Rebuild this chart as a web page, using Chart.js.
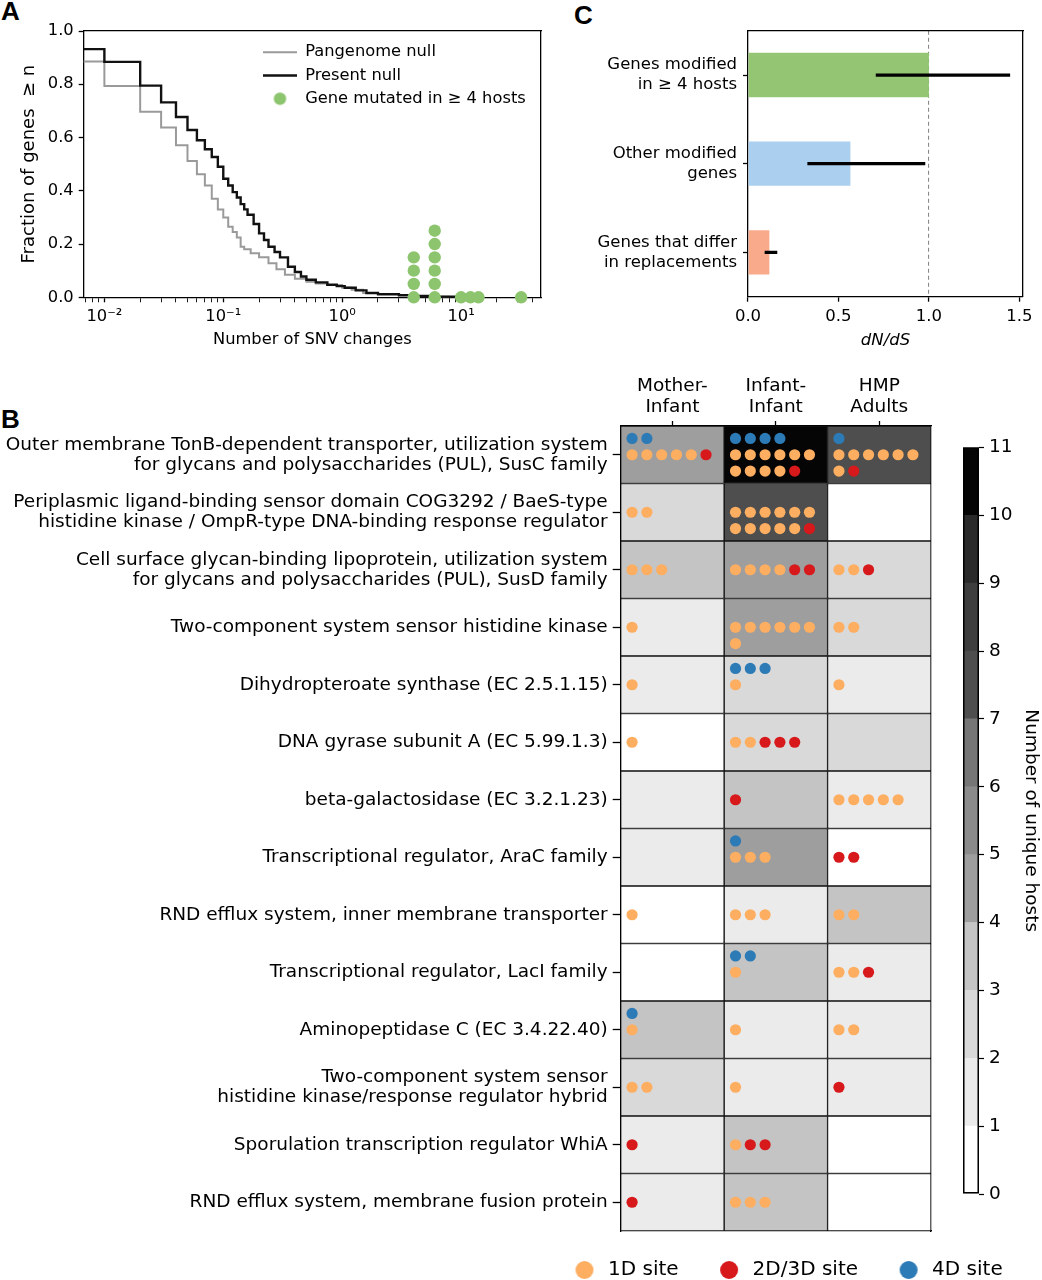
<!DOCTYPE html>
<html><head><meta charset="utf-8">
<title>Figure</title>
<script src="https://cdn.jsdelivr.net/npm/chart.js@4.4.1/dist/chart.umd.min.js"></script>
<style>
html,body{margin:0;padding:0;background:#fff;}
body{width:1042px;height:1280px;position:relative;overflow:hidden;}
canvas{position:absolute;}
.lbl{position:absolute;font-family:'Liberation Sans',Arial,sans-serif;font-weight:bold;font-size:26px;line-height:1;color:#000;}
</style></head><body>
<div class="lbl" style="left:1px;top:-2px">A</div>
<div class="lbl" style="left:574px;top:2px">C</div>
<div class="lbl" style="left:1px;top:406px">B</div>
<canvas id="cA" style="left:0;top:0" width="560" height="360"></canvas>
<canvas id="cLegA" style="left:256px;top:37px" width="290" height="200"></canvas>
<canvas id="cC" style="left:572px;top:0" width="470" height="360"></canvas>
<canvas id="cB" style="left:0;top:360px" width="1042" height="900"></canvas>
<canvas id="cCB" style="left:940px;top:430px" width="102" height="790"></canvas>
<canvas id="cLegB" style="left:534px;top:1223px" width="508" height="200"></canvas>
<script>
// ================= Panel A data =================
const seriesA = ['Pangenome null', 'Present null', 'Gene mutated in \u2265 4 hosts'];
const pangenomeX = [0.005,0.01,0.02,0.03,0.04,0.05,0.06,0.07,0.08,0.09,0.1,0.11,0.12,0.13,0.14,0.15,0.17,0.2,0.24,0.28,0.33,0.4,0.5,0.6,0.75,1.0,1.2,1.5,2.0,3.0,4.0,6.0,8.0];
const pangenomeY = [0.885,0.793,0.697,0.638,0.571,0.512,0.462,0.42,0.37,0.33,0.30,0.265,0.245,0.225,0.19,0.18,0.165,0.15,0.128,0.105,0.085,0.07,0.058,0.052,0.046,0.036,0.028,0.016,0.01,0.006,0.004,0.002,0];
const presentX = [0.005,0.01,0.02,0.03,0.04,0.05,0.06,0.07,0.08,0.09,0.1,0.11,0.12,0.13,0.14,0.15,0.16,0.18,0.2,0.22,0.24,0.27,0.3,0.35,0.4,0.45,0.5,0.6,0.75,0.9,1.05,1.3,1.6,2.0,3.0,4.0,6.0,9.0];
const presentY = [0.932,0.884,0.795,0.732,0.677,0.628,0.59,0.556,0.527,0.49,0.445,0.42,0.395,0.375,0.35,0.33,0.31,0.275,0.24,0.215,0.19,0.17,0.15,0.115,0.095,0.078,0.066,0.056,0.047,0.042,0.036,0.026,0.016,0.012,0.008,0.005,0.002,0];
const mutatedX = [4,4,4,4,6,6,6,6,6,6,10,12,14,32];
const mutatedY = [0,0.05,0.1,0.15,0,0.05,0.1,0.15,0.2,0.25,0,0,0,0];
const xMajorA = [0.01, 0.1, 1, 10];
const xMajorLabelsA = ['10\u207B\u00B2', '10\u207B\u00B9', '10\u2070', '10\u00B9'];
const yTicksA = [0, 0.2, 0.4, 0.6, 0.8, 1.0];
const xTitleA = 'Number of SNV changes';
const yTitleA = 'Fraction of genes  \u2265 n';

// ================= Panel C data =================
const cCategories = [['Genes modified', 'in \u2265 4 hosts'], ['Other modified', 'genes'], ['Genes that differ', 'in replacements']];
const cDnDs = [1.0, 0.566, 0.118];
const cLow = [0.708, 0.33, 0.094];
const cHigh = [1.447, 0.978, 0.160];
const cTicks = [0, 0.5, 1.0, 1.5];
const cRefLine = 1.0;
const cTitle = 'dN/dS';

// ================= Panel B data =================
const genes = [
  ['Outer membrane TonB-dependent transporter, utilization system', 'for glycans and polysaccharides (PUL), SusC family'],
  ['Periplasmic ligand-binding sensor domain COG3292 / BaeS-type', 'histidine kinase / OmpR-type DNA-binding response regulator'],
  ['Cell surface glycan-binding lipoprotein, utilization system', 'for glycans and polysaccharides (PUL), SusD family'],
  'Two-component system sensor histidine kinase',
  'Dihydropteroate synthase (EC 2.5.1.15)',
  'DNA gyrase subunit A (EC 5.99.1.3)',
  'beta-galactosidase (EC 3.2.1.23)',
  'Transcriptional regulator, AraC family',
  'RND efflux system, inner membrane transporter',
  'Transcriptional regulator, LacI family',
  'Aminopeptidase C (EC 3.4.22.40)',
  ['Two-component system sensor', 'histidine kinase/response regulator hybrid'],
  'Sporulation transcription regulator WhiA',
  'RND efflux system, membrane fusion protein'
];
const groups = [['Mother-', 'Infant'], ['Infant-', 'Infant'], ['HMP', 'Adults']];
const hostsMI  = [4, 2, 3, 1, 1, 0, 1, 1, 0, 0, 3, 2, 1, 1];
const hostsII  = [10, 7, 4, 4, 2, 2, 3, 4, 1, 3, 1, 1, 3, 3];
const hostsHMP = [7, 0, 2, 2, 1, 2, 1, 0, 3, 1, 1, 1, 0, 0];
const sites1D_MI   = [5, 2, 3, 1, 1, 1, 0, 0, 1, 0, 1, 2, 0, 0];
const sites23D_MI  = [1, 0, 0, 0, 0, 0, 0, 0, 0, 0, 0, 0, 1, 1];
const sites4D_MI   = [2, 0, 0, 0, 0, 0, 0, 0, 0, 0, 1, 0, 0, 0];
const sites1D_II   = [10, 11, 4, 7, 1, 2, 0, 3, 3, 1, 1, 1, 1, 3];
const sites23D_II  = [1, 1, 2, 0, 0, 3, 1, 0, 0, 0, 0, 0, 2, 0];
const sites4D_II   = [4, 0, 0, 0, 3, 0, 0, 1, 0, 2, 0, 0, 0, 0];
const sites1D_HMP  = [7, 0, 2, 2, 1, 0, 5, 0, 2, 2, 2, 0, 0, 0];
const sites23D_HMP = [1, 0, 1, 0, 0, 0, 0, 2, 0, 1, 0, 1, 0, 0];
const sites4D_HMP  = [1, 0, 0, 0, 0, 0, 0, 0, 0, 0, 0, 0, 0, 0];
const siteTypes = ['1D site', '2D/3D site', '4D site'];
const cbTicks = [0, 1, 2, 3, 4, 5, 6, 7, 8, 9, 10, 11];
const cbTitle = 'Number of unique hosts';

// ================= Styles =================
const BLACK = '#000';
const COLOR_PANGENOME = '#9a9a9a';
const COLOR_PRESENT = '#111111';
const COLOR_GREEN = '#8dc46e';
const cColors = ['#94c573', '#abcfee', '#f8aa8b'];
const siteColors = ['#fdae61', '#d7191c', '#2c7bb6'];
const greys = ['#ffffff', '#ebebeb', '#d9d9d9', '#c4c4c4', '#9e9e9e', '#8b8b8b', '#767676', '#4e4e4e', '#3e3e3e', '#2a2a2a', '#050505'];
const X_MIN_A = 0.0067, X_MAX_A = 47, C_XMAX = 1.52;
const DOT_X0 = 0.11, DOT_DX = 0.143, DOT_DY = 0.284, DOTS_PER_LINE = 6;
const FONT_A = 16.3, FONT_C = 16.5, FONT_B = 18.5;

Chart.defaults.font.family = "'DejaVu Sans', 'Noto Sans', sans-serif";
Chart.defaults.font.size = 17;
Chart.defaults.color = BLACK;
Chart.defaults.animation = false;
Chart.defaults.responsive = false;
Chart.defaults.maintainAspectRatio = false;
Chart.defaults.devicePixelRatio = 1;
Chart.defaults.events = [];
Chart.defaults.plugins.legend.display = false;
Chart.defaults.plugins.tooltip.enabled = false;

function frameAxis(axis, pos, w) {
  return { axis, type: 'linear', position: pos, min: 0, max: 1, display: true, offset: false,
    ticks: { display: false }, grid: { display: false, drawTicks: false, offset: false },
    border: { display: true, color: BLACK, width: w },
    afterFit(s) { if (axis === 'x') s.height = 0; else s.width = 0; } };
}
function legendSwatch(color, r) {
  const c = document.createElement('canvas');
  c.width = c.height = Math.ceil(2 * r + 2);
  const g = c.getContext('2d');
  g.fillStyle = color; g.beginPath(); g.arc(c.width / 2, c.height / 2, r, 0, Math.PI * 2); g.fill();
  return c;
}

// ================= Panel A chart =================
const xTicksA = [];
[-3, -2, -1, 0, 1].forEach(e => {
  for (let m = 1; m < 10; m++) {
    const v = +(m * Math.pow(10, e)).toPrecision(6);
    if (v >= X_MIN_A && v <= X_MAX_A) xTicksA.push(v);
  }
});
new Chart(document.getElementById('cA'), {
  type: 'scatter',
  data: { datasets: [
    { label: seriesA[0], data: pangenomeX.map((x, i) => ({ x, y: pangenomeY[i] })), showLine: true, stepped: 'before',
      borderColor: COLOR_PANGENOME, backgroundColor: COLOR_PANGENOME, borderWidth: 2, pointRadius: 0, order: 2 },
    { label: seriesA[1], data: presentX.map((x, i) => ({ x, y: presentY[i] })), showLine: true, stepped: 'before',
      borderColor: COLOR_PRESENT, backgroundColor: COLOR_PRESENT, borderWidth: 2.4, pointRadius: 0, order: 1 },
    { label: seriesA[2], data: mutatedX.map((x, i) => ({ x, y: mutatedY[i] })), showLine: false,
      pointRadius: 6.2, pointBorderWidth: 0, backgroundColor: COLOR_GREEN, borderColor: COLOR_GREEN, clip: false, order: 0 }
  ] },
  options: {
    layout: { padding: { top: 31, right: 19, left: 0, bottom: 0 } },
    scales: {
      x: { type: 'logarithmic', position: 'bottom', min: X_MIN_A, max: X_MAX_A,
        afterBuildTicks(s) { s.ticks = xTicksA.map(v => ({ value: v })); },
        ticks: { autoSkip: false, maxRotation: 0, padding: 5, font: { size: FONT_A },
          callback(v) { const i = xMajorA.indexOf(v); return i >= 0 ? xMajorLabelsA[i] : ''; } },
        grid: { drawOnChartArea: false, tickLength: 5, tickColor: BLACK,
          tickWidth: c => (c.tick && xMajorA.indexOf(c.tick.value) >= 0) ? 1.3 : 0.9 },
        border: { color: BLACK, width: 1.3 },
        title: { display: true, text: xTitleA, font: { size: FONT_A }, padding: { top: 0, bottom: 10 } },
        afterFit(s) { s.height = 62.7; } },
      y: { type: 'linear', position: 'left', min: 0, max: 1,
        afterBuildTicks(s) { s.ticks = yTicksA.map(v => ({ value: v })); },
        ticks: { padding: 5, font: { size: FONT_A }, callback: v => v.toFixed(1) },
        grid: { drawOnChartArea: false, tickLength: 5, tickColor: BLACK, tickWidth: 1.3 },
        border: { color: BLACK, width: 1.3 },
        title: { display: true, text: yTitleA, font: { size: 18 }, padding: { top: 19, bottom: 0 } },
        afterFit(s) { s.width = 83.7; } },
      x2: frameAxis('x', 'top', 1.3),
      y2: frameAxis('y', 'right', 1.3)
    }
  }
});

// Legend for panel A (overlay inside plot area)
new Chart(document.getElementById('cLegA'), {
  type: 'scatter', data: { datasets: [] },
  options: {
    scales: { x: { display: false }, y: { display: false } },
    plugins: { legend: { display: true, position: 'top', align: 'start',
      labels: { usePointStyle: true, pointStyleWidth: 34, boxHeight: 9, padding: 7, font: { size: FONT_A }, color: BLACK,
        generateLabels: () => [
          { text: seriesA[0], strokeStyle: COLOR_PANGENOME, fillStyle: COLOR_PANGENOME, lineWidth: 2, pointStyle: 'line', hidden: false },
          { text: seriesA[1], strokeStyle: COLOR_PRESENT, fillStyle: COLOR_PRESENT, lineWidth: 2.4, pointStyle: 'line', hidden: false },
          { text: seriesA[2], strokeStyle: COLOR_GREEN, fillStyle: COLOR_GREEN, lineWidth: 0, pointStyle: legendSwatch(COLOR_GREEN, 6.2), hidden: false }
        ] } } }
  }
});

// ================= Panel C chart =================
new Chart(document.getElementById('cC'), {
  type: 'bar',
  data: { labels: cCategories, datasets: [
    { label: 'dN/dS', data: cDnDs, backgroundColor: cColors, barPercentage: 0.5, categoryPercentage: 1, grouped: false, order: 1 },
    { label: 'interval', data: cLow.map((v, i) => [v, cHigh[i]]), backgroundColor: BLACK, barThickness: 2.6, grouped: false, order: 0 }
  ] },
  options: {
    indexAxis: 'y',
    layout: { padding: { top: 30.7, right: 19, left: 0, bottom: 0 } },
    scales: {
      x: { type: 'linear', position: 'bottom', min: 0, max: C_XMAX, offset: false,
        afterBuildTicks(s) { s.ticks = cTicks.map(v => ({ value: v })); },
        ticks: { autoSkip: false, maxRotation: 0, padding: 5, font: { size: FONT_C }, callback: v => v.toFixed(1) },
        grid: { drawOnChartArea: true, offset: false, lineWidth: 1.1,
          color: c => (c.tick && c.tick.value === cRefLine) ? '#8a8a8a' : 'rgba(0,0,0,0)',
          tickColor: BLACK, tickLength: 5, tickWidth: 1.3, tickBorderDash: [] },
        border: { color: BLACK, width: 1.3, dash: [4, 3] },
        title: { display: true, text: cTitle, font: { style: 'italic', size: FONT_C }, padding: { top: 0, bottom: 9.8 } },
        afterFit(s) { s.height = 63.3; } },
      y: { type: 'category', position: 'left', offset: true,
        ticks: { autoSkip: false, padding: 6, font: { size: FONT_C } },
        grid: { drawOnChartArea: false, offset: false, tickLength: 5, tickColor: BLACK, tickWidth: 1.3 },
        border: { color: BLACK, width: 1.3 },
        afterFit(s) { s.width = 176; } },
      x2: frameAxis('x', 'top', 1.3),
      y2: frameAxis('y', 'right', 1.3)
    }
  }
});

// ================= Panel B chart =================
const hostsByCol = [hostsMI, hostsII, hostsHMP];
const sitesByCol = [[sites1D_MI, sites23D_MI, sites4D_MI], [sites1D_II, sites23D_II, sites4D_II], [sites1D_HMP, sites23D_HMP, sites4D_HMP]];
const dotPts = [[], [], []];
sitesByCol.forEach((cs, c) => {
  genes.forEach((g, r) => {
    const seq = [];
    for (let k = 0; k < cs[0][r]; k++) seq.push(0);
    for (let k = 0; k < cs[1][r]; k++) seq.push(1);
    seq.forEach((t, k) => {
      const line = Math.floor(k / DOTS_PER_LINE), pos = k % DOTS_PER_LINE;
      dotPts[t].push({ x: c + DOT_X0 + pos * DOT_DX, y: r + line * DOT_DY });
    });
    for (let k = 0; k < cs[2][r]; k++) {
      const line = Math.floor(k / DOTS_PER_LINE), pos = k % DOTS_PER_LINE;
      dotPts[2].push({ x: c + DOT_X0 + pos * DOT_DX, y: r - (line + 1) * DOT_DY });
    }
  });
});

new Chart(document.getElementById('cB'), {
  type: 'bar',
  data: { labels: genes, datasets: [
    ...groups.map((g, c) => ({ type: 'bar', label: g.join(' '), xAxisID: 'x', yAxisID: 'y',
      data: genes.map(() => [c, c + 1]), backgroundColor: hostsByCol[c].map(h => greys[h]),
      borderColor: '#111', borderWidth: 1, borderSkipped: false, grouped: false,
      barPercentage: 1, categoryPercentage: 1, order: 2 })),
    ...siteTypes.map((s, t) => ({ type: 'scatter', label: s, xAxisID: 'x', yAxisID: 'yd', data: dotPts[t],
      pointRadius: 5.6, pointBorderWidth: 0, backgroundColor: siteColors[t], borderColor: siteColors[t],
      showLine: false, clip: false, order: 0 }))
  ] },
  options: {
    indexAxis: 'y',
    layout: { padding: { left: 0, right: 111, top: 0, bottom: 29 } },
    scales: {
      x: { type: 'linear', position: 'top', min: 0, max: 3, offset: false,
        afterBuildTicks(s) { s.ticks = groups.map((g, i) => ({ value: i + 0.5 })); },
        ticks: { autoSkip: false, maxRotation: 0, padding: 4, font: { size: FONT_B, lineHeight: 1.1 }, callback: (v, i) => groups[i] },
        grid: { drawOnChartArea: false, offset: false, tickLength: 5, tickColor: BLACK, tickWidth: 1.3 },
        border: { color: BLACK, width: 1.3 },
        afterFit(s) { s.height = 66; } },
      y: { type: 'category', position: 'left', offset: true,
        ticks: { autoSkip: false, padding: 5, font: { size: FONT_B, lineHeight: 1.08 } },
        grid: { drawOnChartArea: false, offset: false, tickLength: 8, tickColor: BLACK, tickWidth: 1.3 },
        border: { color: BLACK, width: 1.3 },
        afterFit(s) { s.width = 620.7; } },
      yd: { axis: 'y', type: 'linear', display: false, offset: false, grid: { offset: false },
        min: -0.5, max: genes.length - 0.5, reverse: true },
      xb: frameAxis('x', 'bottom', 1.3),
      yr: frameAxis('y', 'right', 1.3)
    }
  }
});

// ================= Colorbar =================
new Chart(document.getElementById('cCB'), {
  type: 'bar',
  data: { labels: [''], datasets: [
    ...greys.map((g, k) => ({ label: String(cbTicks[k]), data: [[cbTicks[k], cbTicks[k + 1]]], backgroundColor: g, borderWidth: 0,
      grouped: false, barPercentage: 1, categoryPercentage: 1, order: 1 })),
    { label: 'outline', data: [[cbTicks[0], cbTicks[cbTicks.length - 1]]], backgroundColor: 'rgba(0,0,0,0)', borderColor: BLACK,
      borderWidth: 1.2, borderSkipped: false, grouped: false, barPercentage: 1, categoryPercentage: 1, order: 0 }
  ] },
  options: {
    layout: { padding: { left: 23, right: 0, top: 17.4, bottom: 26 } },
    scales: {
      x: { display: false },
      y: { type: 'linear', position: 'right', min: cbTicks[0], max: cbTicks[cbTicks.length - 1],
        afterBuildTicks(s) { s.ticks = cbTicks.map(v => ({ value: v })); },
        ticks: { padding: 5, font: { size: FONT_B } },
        grid: { drawOnChartArea: false, tickLength: 5, tickColor: BLACK, tickWidth: 1.2 },
        border: { display: false },
        title: { display: true, text: cbTitle, font: { size: FONT_B }, padding: { top: 0, bottom: 0 } },
        afterFit(s) { s.width = 63; } }
    }
  }
});

// ================= Legend for panel B =================
new Chart(document.getElementById('cLegB'), {
  type: 'scatter', data: { datasets: [] },
  options: {
    scales: { x: { display: false }, y: { display: false } },
    plugins: { legend: { display: true, position: 'top', align: 'start',
      labels: { usePointStyle: true, pointStyleWidth: 27, boxHeight: 20, padding: 37, font: { size: 20 }, color: BLACK,
        generateLabels: () => siteTypes.map((s, t) => ({ text: s, fillStyle: siteColors[t], strokeStyle: siteColors[t],
          lineWidth: 0, pointStyle: legendSwatch(siteColors[t], 9), hidden: false })) } } }
  }
});
</script>
</body></html>
